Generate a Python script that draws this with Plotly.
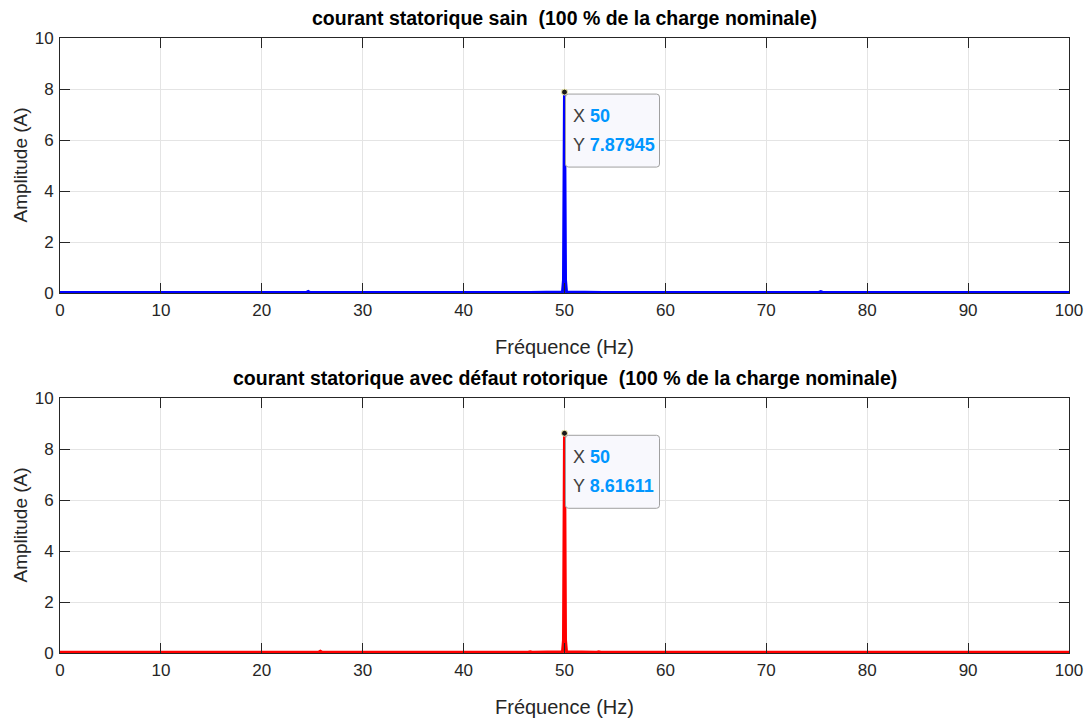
import plotly.graph_objects as go

# ---- data ----
freq_sain = [0, 24.4, 24.6, 24.8, 46.2, 46.4, 46.6, 49.8, 49.9, 50.0, 50.1, 50.2,
             53.4, 53.6, 53.8, 75.2, 75.4, 75.6, 100]
amp_sain = [0.02, 0.02, 0.06, 0.02, 0.02, 0.03, 0.02, 0.04, 0.5, 7.87945, 0.5, 0.04,
            0.02, 0.03, 0.02, 0.02, 0.05, 0.02, 0.02]

freq_defaut = [0, 25.6, 25.8, 26.0, 46.4, 46.6, 46.8, 49.8, 49.9, 50.0, 50.1, 50.2,
               53.2, 53.4, 53.6, 74.1, 74.3, 74.5, 100]
amp_defaut = [0.03, 0.03, 0.07, 0.03, 0.03, 0.05, 0.03, 0.05, 0.5, 8.61611, 0.5, 0.05,
              0.03, 0.05, 0.03, 0.03, 0.05, 0.03, 0.03]

peak_x = [50, 50]
peak_y = [7.87945, 8.61611]

titles = ["courant statorique sain  (100 % de la charge nominale)",
          "courant statorique avec défaut rotorique  (100 % de la charge nominale)"]
x_title = "Fréquence (Hz)"
y_title = "Amplitude (A)"
x_ticks = [0, 10, 20, 30, 40, 50, 60, 70, 80, 90, 100]
y_ticks = [0, 2, 4, 6, 8, 10]

FONT = "Liberation Sans, Arial, Helvetica, sans-serif"
W, H = 1086, 720
TXT = "#262626"

# plot areas in pixels
px_l, px_r = 60, 1069
panels = [(38, 293), (398, 653)]

fig = go.Figure()
fig.add_trace(go.Scatter(x=freq_sain, y=amp_sain, mode="lines",
                         line=dict(color="#0000ff", width=3), xaxis="x", yaxis="y",
                         hoverinfo="skip"))
fig.add_trace(go.Scatter(x=freq_defaut, y=amp_defaut, mode="lines",
                         line=dict(color="#ff0000", width=3), xaxis="x2", yaxis="y2",
                         hoverinfo="skip"))
for i, (ax, ay) in enumerate([("x", "y"), ("x2", "y2")]):
    fig.add_trace(go.Scatter(x=[peak_x[i]], y=[peak_y[i]], mode="markers",
                             marker=dict(color="#1a1a1a", size=6,
                                         line=dict(color="#f5f0b0", width=1)),
                             xaxis=ax, yaxis=ay, hoverinfo="skip", cliponaxis=False))

def xaxis_cfg(anchor):
    return dict(domain=[px_l / W, px_r / W], range=[0, 100], anchor=anchor,
                tickvals=x_ticks, ticks="inside", ticklen=10, tickcolor=TXT,
                showline=True, linecolor=TXT, linewidth=1, mirror="ticks",
                showgrid=True, gridcolor="#e4e4e4", gridwidth=1, zeroline=False,
                automargin=False,
                tickfont=dict(family=FONT, size=17, color=TXT), ticklabelstandoff=2)

def yaxis_cfg(anchor, top, bot):
    return dict(domain=[1 - bot / H, 1 - top / H], range=[0, 10], anchor=anchor,
                tickvals=y_ticks, ticks="inside", ticklen=10, tickcolor=TXT,
                showline=True, linecolor=TXT, linewidth=1, mirror="ticks",
                showgrid=True, gridcolor="#e4e4e4", gridwidth=1, zeroline=False,
                automargin=False,
                tickfont=dict(family=FONT, size=17, color=TXT), ticklabelstandoff=2)

# rounded datatip box path, in pixels relative to the data point (y up)
def tip_path(x0, x1, y0, y1, r=3):
    return (f"M {x0+r},{y0} L {x1-r},{y0} Q {x1},{y0} {x1},{y0-r} "
            f"L {x1},{y1+r} Q {x1},{y1} {x1-r},{y1} L {x0+r},{y1} "
            f"Q {x0},{y1} {x0},{y1+r} L {x0},{y0-r} Q {x0},{y0} {x0+r},{y0} Z")

annotations = []
shapes = []
for i, (top, bot) in enumerate(panels):
    cx = (px_l + px_r) / 2 / W
    annotations.append(dict(text="<b>" + titles[i] + "</b>", xref="paper", yref="paper",
                            x=cx, y=1 - (top - 20) / H, xanchor="center", yanchor="middle",
                            showarrow=False, font=dict(family=FONT, size=19.5, color="#000000")))
    annotations.append(dict(text=x_title, xref="paper", yref="paper",
                            x=cx, y=1 - (bot + 54) / H, xanchor="center", yanchor="middle",
                            showarrow=False, font=dict(family=FONT, size=20, color=TXT)))
    annotations.append(dict(text=y_title, xref="paper", yref="paper",
                            x=20 / W, y=1 - (top + bot) / 2 / H, xanchor="center", yanchor="middle",
                            textangle=-90, showarrow=False,
                            font=dict(family=FONT, size=19, color=TXT)))
    ax = "x" if i == 0 else "x2"
    ay = "y" if i == 0 else "y2"
    shapes.append(dict(type="path", xref=ax, yref=ay, xsizemode="pixel", ysizemode="pixel",
                       xanchor=peak_x[i], yanchor=peak_y[i],
                       path=tip_path(1, 95, -2, -75),
                       fillcolor="#f8f8fd", line=dict(color="#a0a0a0", width=1), layer="above"))
    annotations.append(dict(
        text=("<span style='font-size:18px'>X <span style='color:#0096ff'><b>%g</b></span></span><br>"
              "<span style='font-size:18px'>Y <span style='color:#0096ff'><b>%s</b></span></span>")
             % (peak_x[i], ("%.5f" % peak_y[i])),
        xref=ax, yref=ay, x=peak_x[i], y=peak_y[i], xanchor="left", yanchor="top",
        xshift=8, yshift=-14, align="left", showarrow=False,
        borderpad=0, borderwidth=0,
        font=dict(family=FONT, size=22, color="#404040")))

fig.update_layout(
    template="none",
    width=W, height=H, margin=dict(l=0, r=0, t=0, b=0, autoexpand=False),
    paper_bgcolor="#ffffff", plot_bgcolor="#ffffff", showlegend=False,
    xaxis=xaxis_cfg("y"), yaxis=yaxis_cfg("x", *panels[0]),
    xaxis2=xaxis_cfg("y2"), yaxis2=yaxis_cfg("x2", *panels[1]),
    annotations=annotations, shapes=shapes, hovermode=False,
)

fig.write_html("out.html")
